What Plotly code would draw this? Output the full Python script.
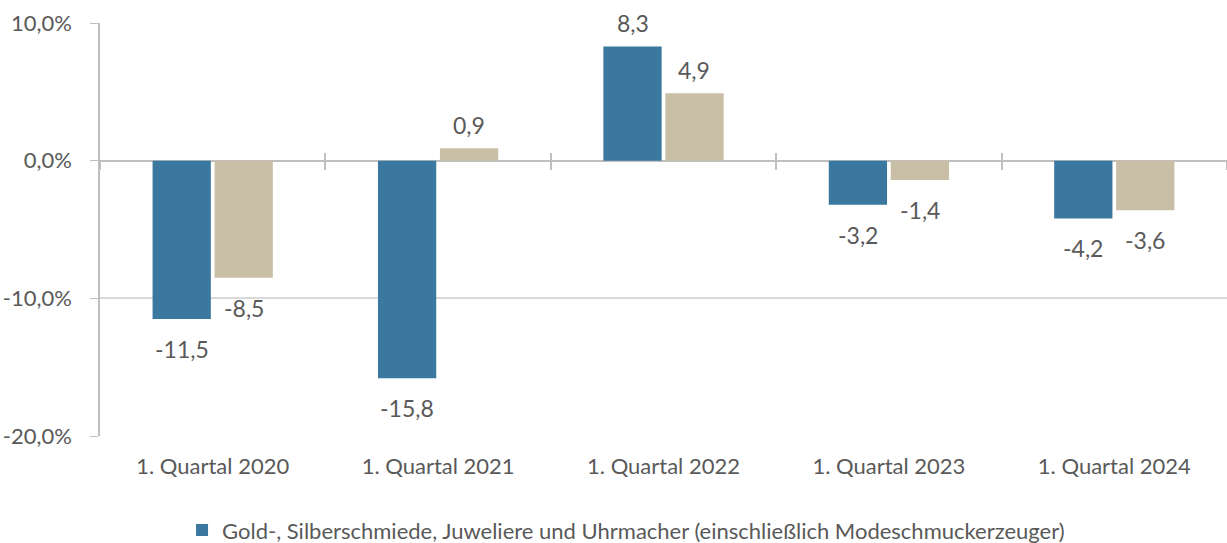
import plotly.graph_objects as go

categories = ["1. Quartal 2020", "1. Quartal 2021", "1. Quartal 2022", "1. Quartal 2023", "1. Quartal 2024"]
gold_values = [-11.5, -15.8, 8.3, -3.2, -4.2]
other_values = [-8.5, 0.9, 4.9, -1.4, -3.6]
gold_name = "Gold-, Silberschmiede, Juweliere und Uhrmacher (einschließlich Modeschmuckerzeuger)"
y_ticks = [-20, -10, 0, 10]
y_tick_labels = ["-20,0%", "-10,0%", "0,0%", "10,0%"]

FONT = "Lato"
GRAY = "#595959"
LINE = "#BFBFBF"
BARGAP = 0.45
BARGROUPGAP = 0.06

fig = go.Figure()
fig.add_trace(go.Bar(
    x=categories, y=gold_values, name=gold_name,
    marker=dict(color="#3B789F", line=dict(width=0)),
))
fig.add_trace(go.Bar(
    x=categories, y=other_values, name="Handel",
    marker=dict(color="#C9BFA6", line=dict(width=0)),
    showlegend=False,
))

# invisible helper traces for the crossing tick marks on the zero line
for ax in ["x2", "x3"]:
    fig.add_trace(go.Bar(x=categories, y=[0] * len(categories), xaxis=ax, yaxis="y",
                         showlegend=False, hoverinfo="skip", marker=dict(opacity=0)))

# data labels (placed at the bar ends, shifted away from the bar)
half = (1 - BARGAP) / 4
for offset, values in [(-half, gold_values), (half, other_values)]:
    for j, v in enumerate(values):
        fig.add_annotation(
            x=j + offset, y=v, xref="x", yref="y",
            text=f"{v:.1f}".replace(".", ","), showarrow=False,
            yshift=23 if v >= 0 else -30,
            font=dict(family=FONT, size=23, color=GRAY),
        )

fig.update_layout(
    width=1227, height=543,
    margin=dict(l=100, r=0, t=23, b=107, autoexpand=False),
    paper_bgcolor="white", plot_bgcolor="white",
    separators=",.",
    barmode="group", bargap=BARGAP, bargroupgap=BARGROUPGAP,
    font=dict(family=FONT, color=GRAY, size=22),
    showlegend=True,
    legend=dict(orientation="h", x=0.0728, xanchor="left", y=-0.228, yanchor="middle",
                font=dict(family=FONT, size=22, color=GRAY), itemwidth=30),
    xaxis=dict(showline=False, ticks="", showgrid=False, ticklabelstandoff=15,
               automargin=False,
               tickfont=dict(family=FONT, size=22, color=GRAY)),
    xaxis2=dict(overlaying="x", matches="x", anchor="free", position=2 / 3,
                showline=False, showgrid=False, showticklabels=False, automargin=False,
                ticks="outside", ticklen=8, tickcolor=LINE, tickwidth=1.5,
                tickson="boundaries"),
    xaxis3=dict(overlaying="x", matches="x", anchor="free", position=2 / 3,
                showline=False, showgrid=False, showticklabels=False, automargin=False,
                ticks="inside", ticklen=8, tickcolor=LINE, tickwidth=1.5,
                tickson="boundaries"),
    yaxis=dict(range=[-20, 10], tickvals=y_ticks, ticktext=y_tick_labels,
               showgrid=True, gridcolor="#D9D9D9", gridwidth=1.5, automargin=False,
               zeroline=True, zerolinecolor=LINE, zerolinewidth=1.5,
               showline=True, linecolor=LINE, linewidth=1.5,
               ticks="outside", ticklen=8, tickcolor=LINE, ticklabelstandoff=14,
               tickfont=dict(family=FONT, size=22, color=GRAY)),
)

fig.write_html("out.html", config={"displayModeBar": False},
               post_script="document.body.style.margin='0';document.body.style.overflow='hidden';")
